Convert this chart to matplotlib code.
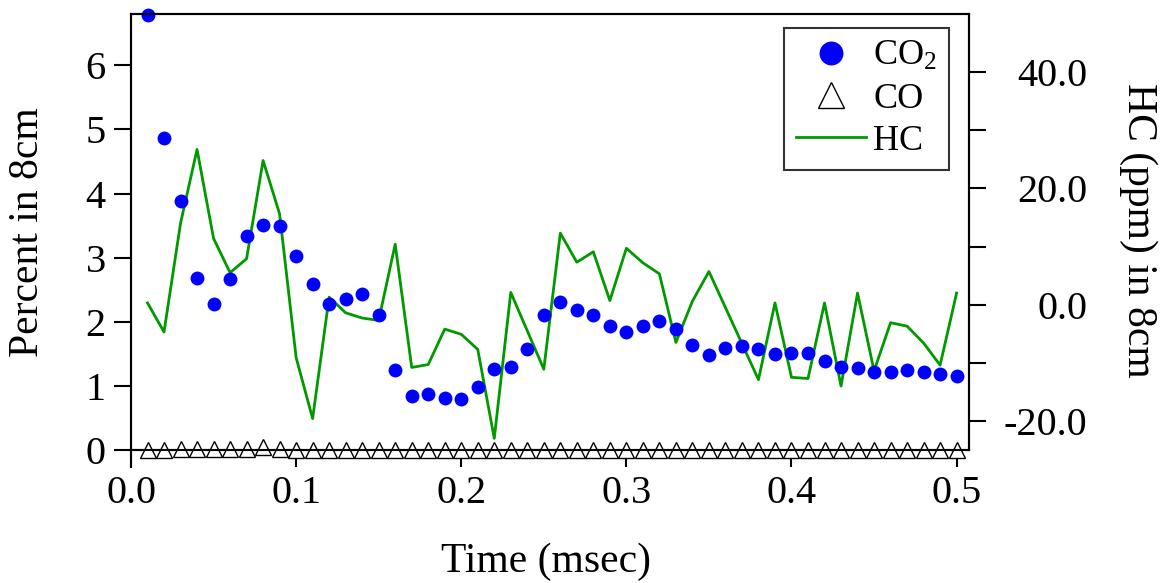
import matplotlib
matplotlib.use("Agg")
import matplotlib.pyplot as plt
import numpy as np
from matplotlib.ticker import FixedLocator, FuncFormatter
from matplotlib.lines import Line2D

plt.rcParams['font.family'] = ['Liberation Serif', 'DejaVu Serif']
plt.rcParams['mathtext.fontset'] = 'custom'
plt.rcParams['mathtext.rm'] = 'Liberation Serif'
plt.rcParams['mathtext.it'] = 'Liberation Serif:italic'

time_ms = [0.01, 0.02, 0.03, 0.04, 0.05, 0.06, 0.07, 0.08, 0.09, 0.10,
           0.11, 0.12, 0.13, 0.14, 0.15, 0.16, 0.17, 0.18, 0.19, 0.20,
           0.21, 0.22, 0.23, 0.24, 0.25, 0.26, 0.27, 0.28, 0.29, 0.30,
           0.31, 0.32, 0.33, 0.34, 0.35, 0.36, 0.37, 0.38, 0.39, 0.40,
           0.41, 0.42, 0.43, 0.44, 0.45, 0.46, 0.47, 0.48, 0.49, 0.50]

co2_pct = [6.79, 4.86, 3.88, 2.69, 2.27, 2.66, 3.33, 3.51, 3.49, 3.02,
           2.59, 2.28, 2.35, 2.43, 2.10, 1.24, 0.85, 0.88, 0.81, 0.79,
           0.98, 1.27, 1.29, 1.58, 2.10, 2.31, 2.19, 2.10, 1.94, 1.84,
           1.94, 2.01, 1.88, 1.64, 1.48, 1.59, 1.62, 1.58, 1.50, 1.52,
           1.51, 1.39, 1.30, 1.28, 1.21, 1.21, 1.25, 1.21, 1.18, 1.15]

co_pct = [0.00, 0.00, 0.01, 0.01, 0.02, 0.02, 0.01, 0.05, 0.01, 0.00,
          0.00, 0.00, 0.00, 0.00, 0.00, 0.00, 0.00, 0.00, 0.00, 0.00,
          0.00, 0.00, 0.00, 0.00, 0.00, 0.00, 0.00, 0.00, 0.00, 0.00,
          0.00, 0.00, 0.00, 0.00, 0.00, 0.00, 0.00, 0.00, 0.00, 0.00,
          0.00, 0.00, 0.00, 0.00, 0.00, 0.00, 0.00, 0.00, 0.00, 0.00]

hc_ppm = [0.3, -4.7, 14.0, 26.7, 11.4, 5.5, 7.9, 24.8, 15.6, -9.1,
          -19.6, 1.3, -1.4, -2.3, -2.7, 10.4, -10.8, -10.3, -4.2, -5.1,
          -7.7, -23.0, 2.1, -4.5, -11.1, 12.3, 7.3, 9.1, 0.7, 9.7,
          7.2, 5.3, -6.5, 0.6, 5.7, -0.5, -6.7, -12.9, 0.3, -12.5,
          -12.7, 0.3, -14.0, 2.0, -11.4, -3.1, -3.7, -6.6, -10.4, 2.0]

left_ticks = [0, 1, 2, 3, 4, 5, 6]
right_ticks = [-20, -10, 0, 10, 20, 30, 40]
right_labels = [-20, 0, 20, 40]
x_ticks = [0.0, 0.1, 0.2, 0.3, 0.4, 0.5]

W, H = 1161, 583
fig = plt.figure(figsize=(W / 100, H / 100), dpi=100)
L, R, T, B = 131, 969, 14, 450
ax = fig.add_axes([L / W, 1 - B / H, (R - L) / W, (B - T) / H])
ax2 = ax.twinx()

ax.set_xlim(0, 0.5075)
ax.set_ylim(0, 6.8)
ax2.set_ylim(-25, 50)

tick_len = 12.2
for a in (ax, ax2):
    for s in a.spines.values():
        s.set_linewidth(1.5)
ax.tick_params(axis='both', direction='out', length=tick_len, width=1.5, labelsize=29)
ax.tick_params(axis='x', pad=6)
ax.tick_params(axis='y', pad=6)
ax.set_xticks(x_ticks)
ax.xaxis.set_major_formatter(FuncFormatter(lambda v, p: f"{v:.1f}"))
ax.set_yticks(left_ticks)

ax2.yaxis.set_major_locator(FixedLocator(right_ticks))
ax2.yaxis.set_major_formatter(FuncFormatter(lambda v, p: f"{v:.1f}" if round(v) in right_labels else ""))
ax2.tick_params(axis='y', direction='out', length=tick_len, width=1.5, labelsize=29, pad=73)
for lbl in ax2.get_yticklabels():
    lbl.set_horizontalalignment('right')

# left spine extends below the x axis
ax.add_line(Line2D([0, 0], [0, -17 / (B - T)], transform=ax.transAxes,
                   color='black', lw=1.5, clip_on=False))

hc_line, = ax2.plot(time_ms, hc_ppm, color='#009900', lw=2.0, label='HC', zorder=2)
ax.set_zorder(ax2.get_zorder() + 1)
ax.patch.set_visible(False)
co2_pts, = ax.plot(time_ms, co2_pct, 'o', color='#0000ff', markersize=10,
                   markeredgewidth=0, label=r'CO$_\mathrm{2}$', clip_on=False)
co_pts, = ax.plot(time_ms, co_pct, '^', markerfacecolor='white', markeredgecolor='black',
                  markersize=11, markeredgewidth=1.0, label='CO', clip_on=False)

leg = ax.legend(handles=[co2_pts, co_pts, hc_line], loc='upper right',
                bbox_to_anchor=((949 - L) / (R - L), (B - 28) / (B - T)),
                fontsize=26, frameon=True, fancybox=False, edgecolor='black',
                handlelength=1.95, handletextpad=0.2, labelspacing=0.25,
                borderpad=0.33, borderaxespad=0, markerscale=1.72)
leg.get_frame().set_linewidth(1.5)
leg.set_zorder(10)

fig.text(28 / W, 1 - 232 / H, 'Percent in 8cm', rotation=90, ha='center', va='center', fontsize=30)
fig.text(1138 / W, 1 - 230 / H, 'HC (ppm) in 8cm', rotation=270, ha='center', va='center', fontsize=30)
fig.text(546 / W, 1 - 562 / H, 'Time (msec)', ha='center', va='center', fontsize=30)

fig.savefig('out.png', dpi=100)
